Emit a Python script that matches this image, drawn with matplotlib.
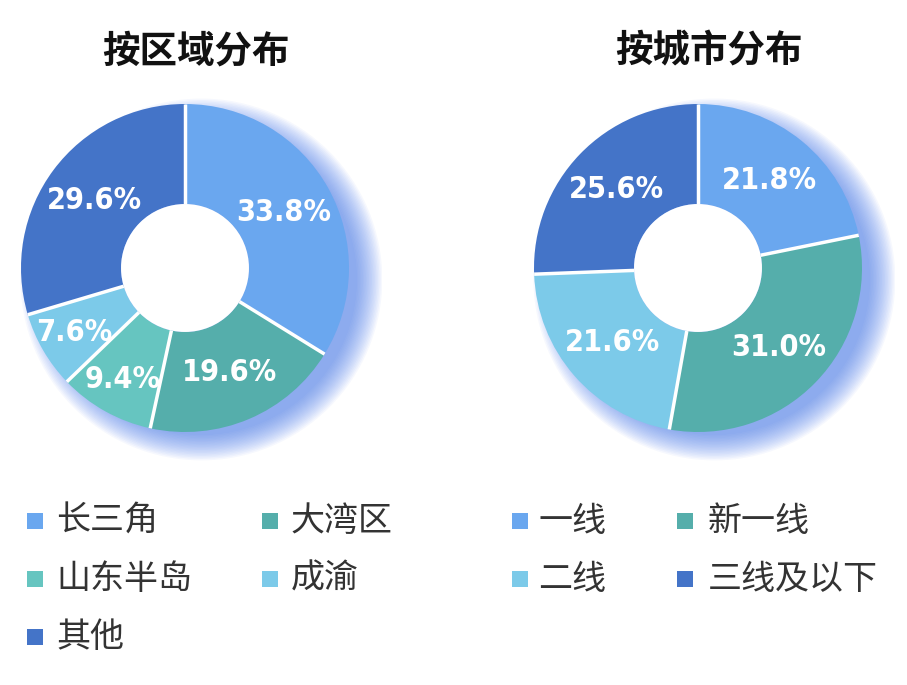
import matplotlib
matplotlib.use("Agg")
import numpy as np
import matplotlib.pyplot as plt
from matplotlib.patches import Circle, Rectangle

plt.rcParams['font.family'] = ['Noto Sans CJK SC', 'DejaVu Sans']

# data
region_labels = ["长三角", "大湾区", "山东半岛", "成渝", "其他"]
region_values = [33.8, 19.6, 9.4, 7.6, 29.6]
region_colors = ["#6aa7ef", "#55aeab", "#66c5c0", "#7ccae9", "#4474c8"]

city_labels = ["一线", "新一线", "二线", "三线及以下"]
city_values = [21.8, 31.0, 21.6, 25.6]
city_colors = ["#6aa7ef", "#55aeab", "#7ccae9", "#4474c8"]

W, H = 907, 685
R_PX = 164
LIM = 1.2
HOLE = 0.39

fig = plt.figure(figsize=(W / 100, H / 100), dpi=100)


def donut(cx, cy, title, values, colors):
    size = 2 * LIM * R_PX
    ax = fig.add_axes([(cx - size / 2) / W, (H - cy - size / 2) / H, size / W, size / H])

    # soft blue glow behind the ring, shifted right and down
    for i in range(18):
        ax.add_patch(Circle((0.1, -0.07), 0.95 + 0.009 * i, color="#4f7fee",
                            alpha=0.05, lw=0, zorder=0))

    wedges, _, autotexts = ax.pie(
        values, colors=colors, startangle=90, counterclock=False,
        radius=1.0, autopct=lambda p: f"{p:.1f}%", pctdistance=0.69,
        wedgeprops=dict(width=1 - HOLE, linewidth=0),
        textprops=dict(color="white", fontsize=22, family="DejaVu Sans",
                       fontweight="bold", fontstretch="condensed"),
    )
    for w, t, v in zip(wedges, autotexts, values):
        w.set_zorder(2)
        t.set_zorder(4)
        if v < 10:
            x, y = t.get_position()
            t.set_position((x * 1.13, y * 1.13))
        a = np.deg2rad(w.theta1)
        ax.plot([HOLE * np.cos(a), np.cos(a)], [HOLE * np.sin(a), np.sin(a)],
                color="white", lw=2.5, solid_capstyle="butt", zorder=3)
    ax.add_patch(Circle((0, 0), HOLE, color="white", lw=0, zorder=2.5))

    ax.set_xlim(-LIM, LIM)
    ax.set_ylim(-LIM, LIM)
    ax.set_aspect("equal")
    ax.axis("off")

    fig.text(cx / W + 0.012, 1 - 51 / H, title, ha="center", va="center",
             fontsize=27, fontweight="bold", color="#111111")
    return ax


donut(185, 268, "按区域分布", region_values, region_colors)
donut(698, 268, "按城市分布", city_values, city_colors)


def legend(x_cols, gaps, labels, colors, cells):
    row_y = [521, 579, 637]
    for (lab, col), (r, c) in zip(zip(labels, colors), cells):
        sx = x_cols[c]
        sy = row_y[r]
        fig.patches.append(Rectangle((sx / W, (H - sy - 8) / H), 16 / W, 16 / H,
                                     transform=fig.transFigure, color=col, lw=0))
        fig.text((sx + 16 + gaps[c]) / W, (H - sy) / H, lab, ha="left", va="center",
                 fontsize=24.5, color="#333333")


legend([27, 262], [13, 13], region_labels, region_colors,
       [(0, 0), (0, 1), (1, 0), (1, 1), (2, 0)])
legend([512, 677], [10, 15], city_labels, city_colors,
       [(0, 0), (0, 1), (1, 0), (1, 1)])

fig.savefig("out.png", dpi=100, facecolor="white")
